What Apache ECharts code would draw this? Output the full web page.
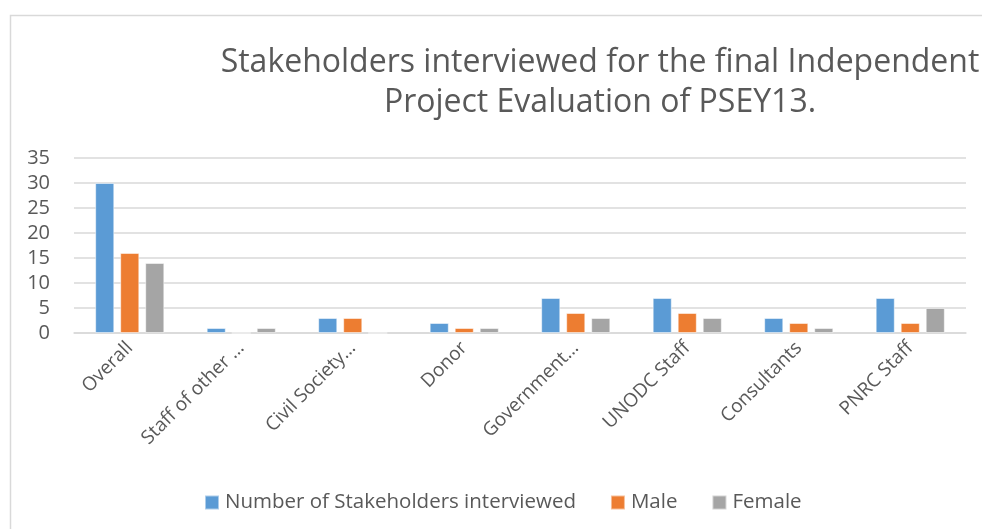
<!DOCTYPE html>
<html><head><meta charset="utf-8">
<script src="https://cdn.jsdelivr.net/npm/echarts@6/dist/echarts.min.js"></script>
<style>html,body{margin:0;padding:0;background:#fff;overflow:hidden}#c{width:982px;height:529px}</style>
</head><body><div id="c"></div>
<script>
const categories = ["Overall", "Staff of other …", "Civil Society…", "Donor", "Government…", "UNODC Staff", "Consultants", "PNRC Staff"];
const seriesNames = ["Number of Stakeholders interviewed", "Male", "Female"];
const totalValues = [30, 1, 3, 2, 7, 7, 3, 7];
const maleValues = [16, 0, 3, 1, 4, 4, 2, 2];
const femaleValues = [14, 1, 0, 1, 3, 3, 1, 5];
const yTicks = [0, 5, 10, 15, 20, 25, 30, 35];
const colors = ["#5B9BD5", "#ED7D31", "#A5A5A5"];
const font = "'Open Sans', 'Noto Sans', sans-serif";
const chart = echarts.init(document.getElementById('c'));
const mk = (name, data, i) => ({
  name, type: 'bar', data,
  itemStyle: { color: colors[i], borderColor: 'rgba(255,255,255,0.5)', borderWidth: 1 },
  barGap: '31%', barCategoryGap: '38%'
});
chart.setOption({
  animation: false,
  color: colors,
  graphic: [{ type: 'rect', shape: { x: 10.5, y: 15.5, width: 1200, height: 600 }, style: { fill: 'none', stroke: '#d9d9d9', lineWidth: 1.5 } }],
  title: {
    text: 'Stakeholders interviewed for the final Independent\nProject Evaluation of PSEY13.',
    left: 595, top: 38, textAlign: 'center',
    textStyle: { fontFamily: font, fontSize: 32, fontWeight: 'normal', color: '#595959', lineHeight: 40 }
  },
  legend: {
    top: 487, left: 199, itemWidth: 14, itemHeight: 14, itemGap: 34,
    data: seriesNames, icon: 'rect',
    textStyle: { fontFamily: font, fontSize: 20.5, color: '#595959', padding: [0, 0, 0, 1] }
  },
  grid: { left: 74, right: 16, top: 158, bottom: 196 },
  xAxis: {
    type: 'category', data: categories,
    axisLine: { lineStyle: { color: '#d9d9d9', width: 1.5 } },
    axisTick: { show: false },
    axisLabel: { rotate: 45, interval: 0, fontFamily: font, fontSize: 19, color: '#595959', margin: 12 }
  },
  yAxis: {
    type: 'value', min: yTicks[0], max: yTicks[yTicks.length - 1], interval: 5,
    axisLine: { show: false }, axisTick: { show: false },
    axisLabel: { fontFamily: font, fontSize: 20, color: '#595959', margin: 24 },
    splitLine: { lineStyle: { color: '#d9d9d9', width: 1.5 } }
  },
  series: [mk(seriesNames[0], totalValues, 0), mk(seriesNames[1], maleValues, 1), mk(seriesNames[2], femaleValues, 2)]
});
</script></body></html>
